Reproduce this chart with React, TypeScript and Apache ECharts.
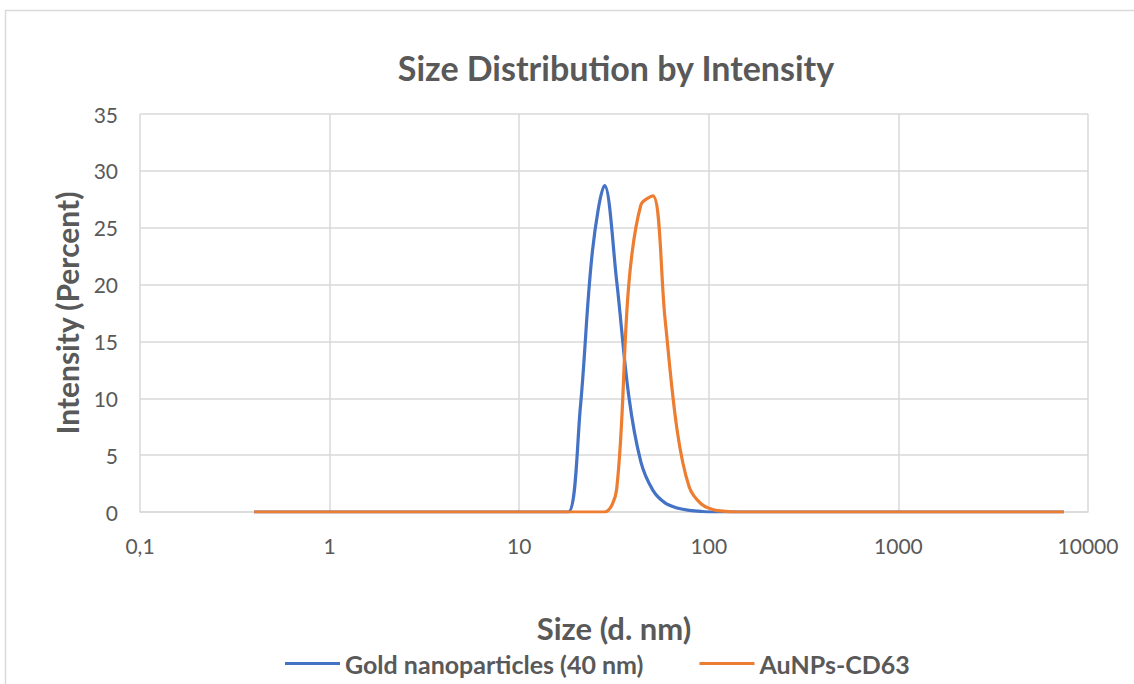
import React, { useEffect, useRef } from "react";
import * as echarts from "echarts";

const sizes = [0.4, 0.4632, 0.5365, 0.6213, 0.7195, 0.8332, 0.9649, 1.117, 1.294, 1.499, 1.736, 2.01, 2.328, 2.696, 3.122, 3.615, 4.187, 4.849, 5.615, 6.503, 7.531, 8.721, 10.1, 11.7, 13.54, 15.69, 18.17, 21.04, 24.36, 28.21, 32.67, 37.84, 43.82, 50.75, 58.77, 68.06, 78.82, 91.28, 105.7, 122.4, 141.8, 164.2, 190.1, 220.2, 255, 295.3, 342, 396.1, 458.7, 531.2, 615.1, 712.4, 825, 955.4, 1106, 1281, 1484, 1718, 1990, 2305, 2669, 3091, 3580, 4145, 4801, 5560, 6439, 7456];

const goldValues = [0, 0, 0, 0, 0, 0, 0, 0, 0, 0, 0, 0, 0, 0, 0, 0, 0, 0, 0, 0, 0, 0, 0, 0, 0, 0, 0, 9.3, 23.0, 28.7, 20.3, 10.2, 4.4, 1.9, 0.8, 0.35, 0.15, 0.05, 0, 0, 0, 0, 0, 0, 0, 0, 0, 0, 0, 0, 0, 0, 0, 0, 0, 0, 0, 0, 0, 0, 0, 0, 0, 0, 0, 0, 0, 0];

const cd63Values = [0, 0, 0, 0, 0, 0, 0, 0, 0, 0, 0, 0, 0, 0, 0, 0, 0, 0, 0, 0, 0, 0, 0, 0, 0, 0, 0, 0, 0, 0, 2.0, 20.0, 27.0, 27.8, 17.0, 7.2, 2.2, 0.7, 0.2, 0.05, 0, 0, 0, 0, 0, 0, 0, 0, 0, 0, 0, 0, 0, 0, 0, 0, 0, 0, 0, 0, 0, 0, 0, 0, 0, 0, 0, 0];

const seriesNames = ["Gold nanoparticles (40 nm)", "AuNPs-CD63"];
const seriesColors = ["#4472C4", "#ED7D31"];

const FONT = "Lato, 'Open Sans', sans-serif";
const TXT = "#595959";

export default function App() {
  const ref = useRef<HTMLDivElement>(null);
  useEffect(() => {
    if (!ref.current) return;
    const chart = echarts.init(ref.current, null, { renderer: "svg" });
    const mk = (vals: number[]) => sizes.map((s, i) => [s, vals[i]]);
    chart.setOption({
      animation: false,
      backgroundColor: "#ffffff",
      title: {
        text: "Size Distribution by Intensity",
        left: 611,
        textAlign: "center",
        top: 45,
        textStyle: { fontFamily: FONT, fontSize: 34, fontWeight: "bold", color: TXT },
      },
      graphic: [
        {
          type: "rect",
          shape: { x: 5.5, y: 10.5, width: 1200, height: 800 },
          style: { fill: "none", stroke: "#d9d9d9", lineWidth: 1.5 },
          silent: true,
        },
      ],
      legend: {
        bottom: 3,
        left: 280,
        icon: "rect",
        itemWidth: 55,
        itemHeight: 3,
        itemGap: 56,
        data: seriesNames,
        textStyle: { fontFamily: FONT, fontSize: 25, fontWeight: "bold", color: TXT },
      },
      grid: { left: 140, right: 46, top: 114, bottom: 172 },
      xAxis: {
        type: "log",
        logBase: 10,
        min: 0.1,
        max: 10000,
        name: "Size (d. nm)",
        nameLocation: "middle",
        nameGap: 100,
        nameTextStyle: { fontFamily: FONT, fontSize: 31, fontWeight: "bold", color: TXT },
        axisLine: { show: true, lineStyle: { color: "#d9d9d9", width: 1.5 } },
        axisTick: { show: false },
        splitLine: { show: true, lineStyle: { color: "#d9d9d9", width: 1.5 } },
        minorTick: { show: false },
        axisLabel: {
          margin: 23,
          fontFamily: FONT,
          fontSize: 21,
          color: TXT,
          formatter: (v: number) => String(v).replace(".", ","),
        },
      },
      yAxis: {
        type: "value",
        min: 0,
        max: 35,
        interval: 5,
        name: "Intensity (Percent)",
        nameLocation: "middle",
        nameGap: 58,
        nameTextStyle: { fontFamily: FONT, fontSize: 30, fontWeight: "bold", color: TXT },
        axisLine: { show: false },
        axisTick: { show: false },
        splitLine: { show: true, lineStyle: { color: "#d9d9d9", width: 1.5 } },
        axisLabel: { margin: 22, fontFamily: FONT, fontSize: 21, color: TXT },
      },
      series: [
        {
          name: seriesNames[0],
          type: "line",
          data: mk(goldValues),
          smooth: 0.35,
          showSymbol: false,
          symbol: "none",
          lineStyle: { color: seriesColors[0], width: 3.2 },
          itemStyle: { color: seriesColors[0] },
        },
        {
          name: seriesNames[1],
          type: "line",
          data: mk(cd63Values),
          smooth: 0.35,
          showSymbol: false,
          symbol: "none",
          lineStyle: { color: seriesColors[1], width: 3.2 },
          itemStyle: { color: seriesColors[1] },
        },
      ],
    });
    return () => chart.dispose();
  }, []);
  return (
    <div
      ref={ref}
      style={{ position: "fixed", left: 0, top: 0, width: 1134, height: 684 }}
    />
  );
}
